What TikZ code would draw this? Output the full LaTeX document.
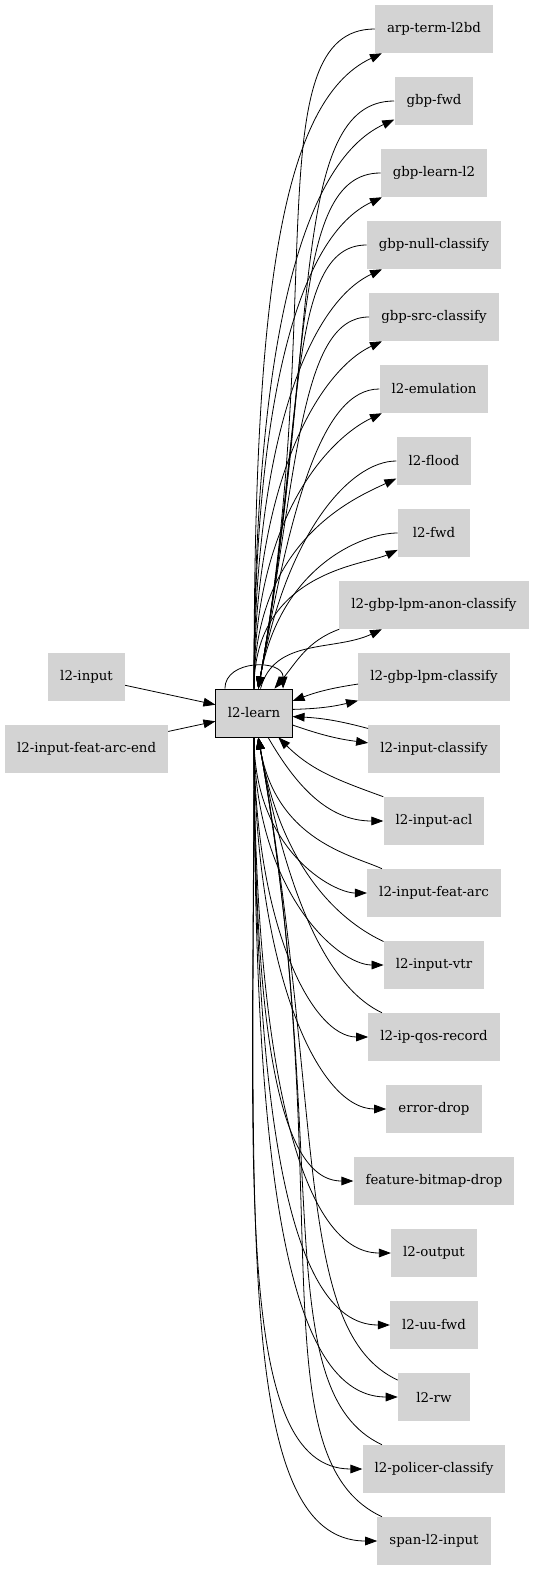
\documentclass[tikz,border=0pt]{standalone}
\usepackage{fontspec}
\setmainfont{DejaVu Serif}
\usetikzlibrary{positioning}
\usetikzlibrary{arrows.meta}
\definecolor{nodegray}{HTML}{D3D3D3}
\tikzset{node distance=54pt, % Centre to centre distance of the right column.
every node/.style={ % Sets the properties for each graph node
rectangle,
fill=nodegray,
minimum width=54pt,
minimum height=36pt,
inner xsep=9pt,
font=\fontsize{10}{12}\selectfont},
>={Triangle[length=9pt,width=6.5pt]},
every edge/.style={ % Sets the properties for each connector
draw,
->,
semithick},
upout/.style={out=90, in=205, out looseness=1.5, in looseness=0.45},
upin/.style={out=180, in=80, out looseness=0.45, in looseness=1.5},
downout/.style={out=-90, in=180, out looseness=1.5, in looseness=0.45},
downin/.style={out=155, in=-80, out looseness=0.45, in looseness=1.5}}

\begin{document}
\begin{tikzpicture}
\useasboundingbox (-190.5pt,-643.5pt) rectangle (210.75pt,534.75pt);
\node[draw, semithick] (learn) at (0,0) {l2-learn};
\node (l2in) at (-125.6pt,27pt) {l2-input};
\node[below of=l2in] (arcend) {l2-input-feat-arc-end};
\node (arp) at (135pt,513pt) {arp-term-l2bd};
\node[below of=arp] (gfwd) {gbp-fwd};
\node[below of=gfwd] (glearn) {gbp-learn-l2};
\node[below of=glearn] (gnull) {gbp-null-classify};
\node[below of=gnull] (gsrc) {gbp-src-classify};
\node[below of=gsrc] (emu) {l2-emulation};
\node[below of=emu] (flood) {l2-flood};
\node[below of=flood] (fwd) {l2-fwd};
\node[below of=fwd] (anon) {l2-gbp-lpm-anon-classify};
\node[below of=anon] (lpm) {l2-gbp-lpm-classify};
\node[below of=lpm] (icls) {l2-input-classify};
\node[below of=icls] (acl) {l2-input-acl};
\node[below of=acl] (farc) {l2-input-feat-arc};
\node[below of=farc] (vtr) {l2-input-vtr};
\node[below of=vtr] (qos) {l2-ip-qos-record};
\node[below of=qos] (drop) {error-drop};
\node[below of=drop] (bmdrop) {feature-bitmap-drop};
\node[below of=bmdrop] (l2out) {l2-output};
\node[below of=l2out] (uu) {l2-uu-fwd};
\node[below of=uu] (rw) {l2-rw};
\node[below of=rw] (pol) {l2-policer-classify};
\node[below of=pol] (span) {span-l2-input};
\draw (l2in) edge (learn)
(arcend) edge (learn)
(learn.140) edge[out=90, in=90, looseness=1.3] (learn.40)
(learn) edge[upout] (arp)
(arp) edge[upin] (learn)
(learn) edge[upout] (gfwd)
(gfwd) edge[upin] (learn)
(learn) edge[upout] (glearn)
(glearn) edge[upin] (learn)
(learn) edge[upout] (gnull)
(gnull) edge[upin] (learn)
(learn) edge[upout] (gsrc)
(gsrc) edge[upin] (learn)
(learn) edge[upout] (emu)
(emu) edge[upin] (learn)
(learn) edge[upout] (flood)
(flood) edge[upin] (learn)
(learn) edge[upout] (fwd)
(fwd) edge[upin] (learn)
(learn) edge[out=75, in=205] (anon)
(anon.south west) edge[out=200, in=50] (learn)
(learn) edge[bend right=6] (lpm)
(lpm) edge[bend right=6] (learn)
(learn) edge[bend right=6] (icls)
(icls) edge[bend right=6] (learn)
(learn) edge[out=-60, in=180] (acl)
(acl.north west) edge[out=160, in=-45] (learn)
(learn) edge[downout] (farc)
(farc) edge[downin] (learn)
(learn) edge[downout] (vtr)
(vtr) edge[downin] (learn)
(learn) edge[downout] (qos)
(qos) edge[downin] (learn)
(learn) edge[downout] (drop)
(learn) edge[downout] (bmdrop)
(learn) edge[downout] (l2out)
(learn) edge[downout] (uu)
(learn) edge[downout] (rw)
(rw) edge[downin] (learn)
(learn) edge[downout] (pol)
(pol) edge[downin] (learn)
(learn) edge[downout] (span)
(span) edge[downin] (learn);
\end{tikzpicture}
\end{document}
